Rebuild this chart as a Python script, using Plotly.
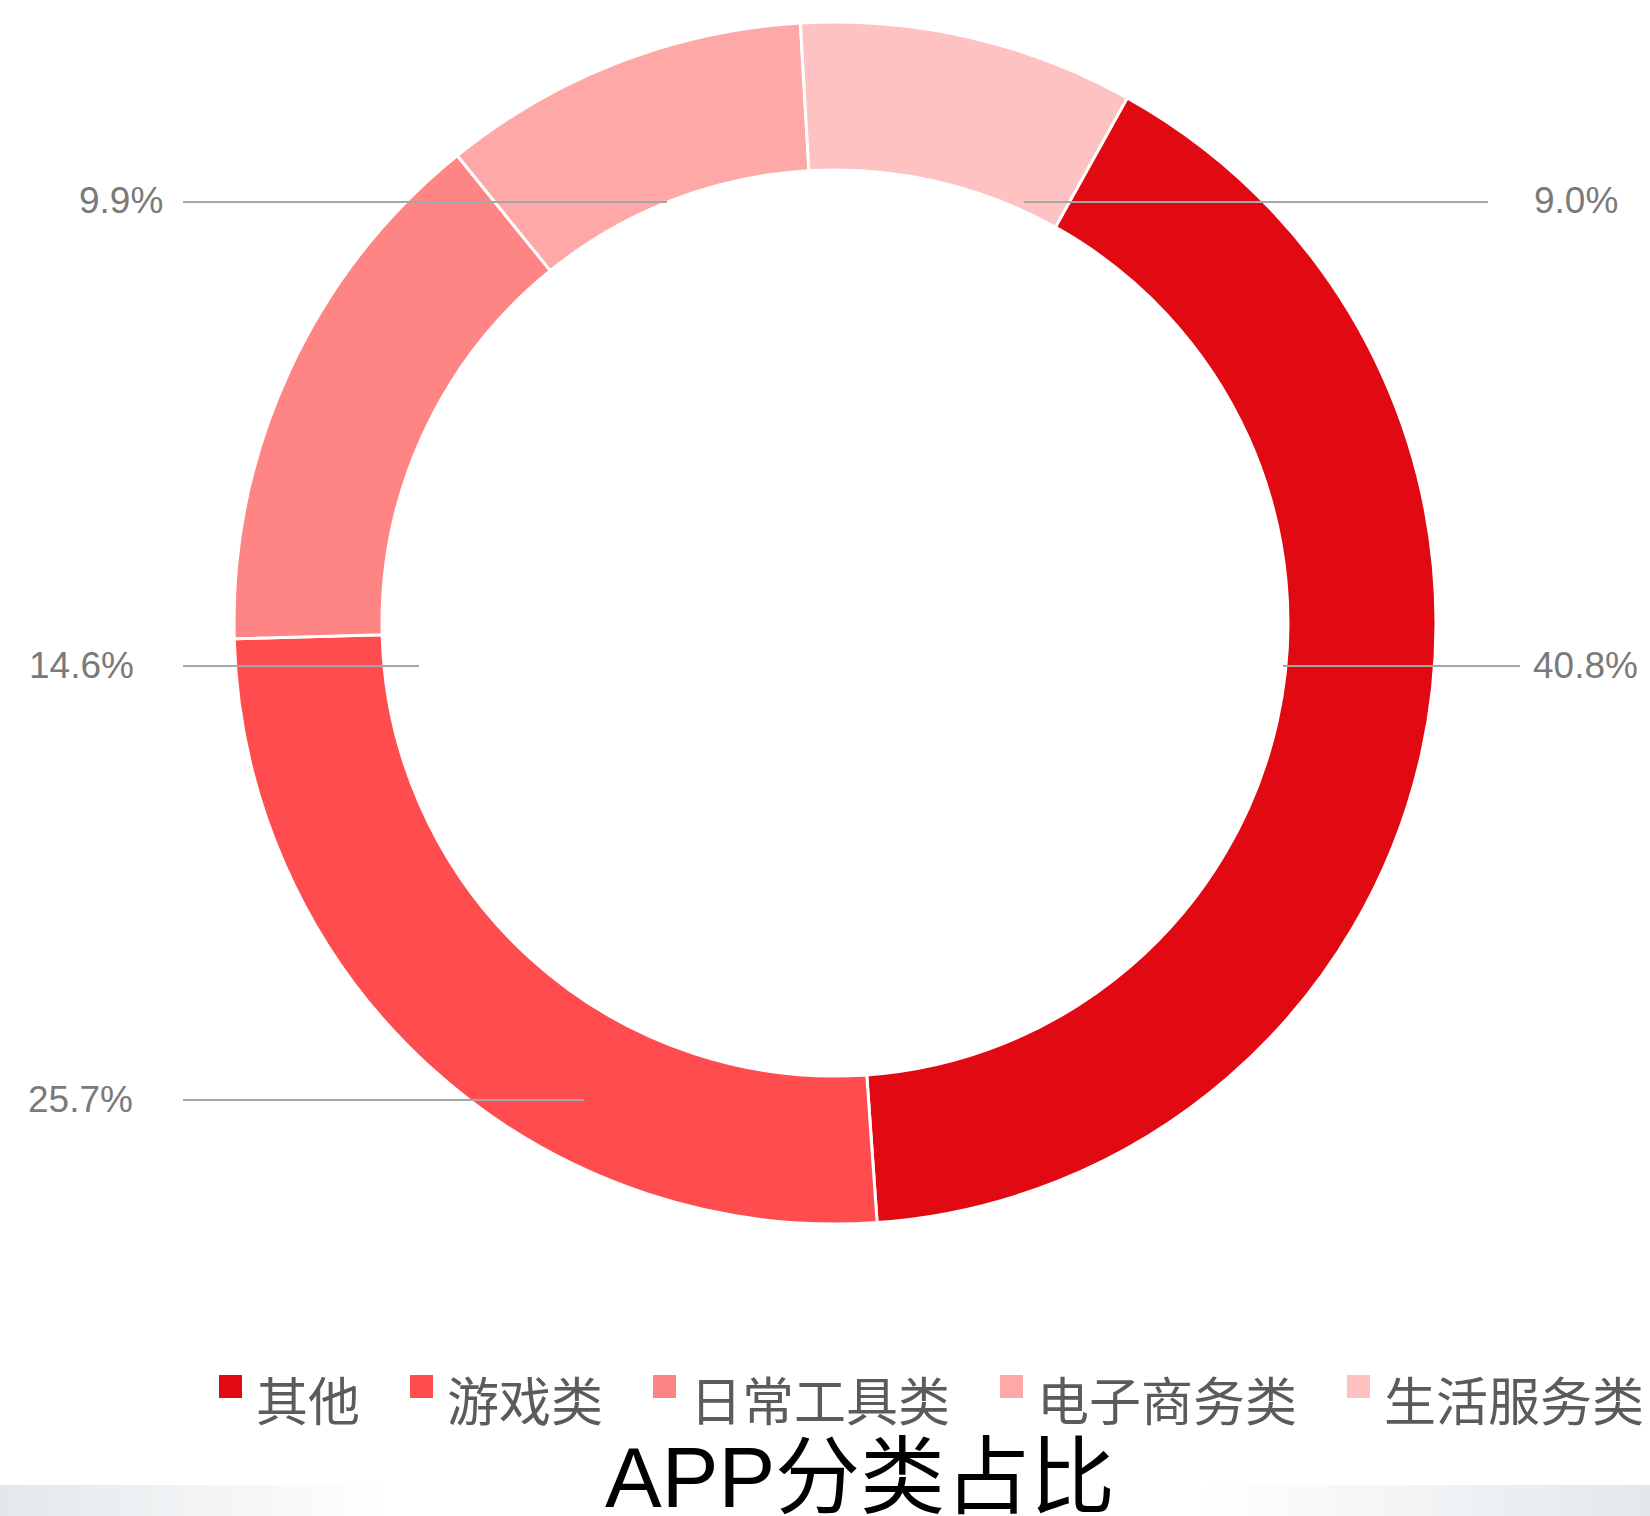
import plotly.graph_objects as go

# ---- data ----
categories = ["其他", "游戏类", "日常工具类", "电子商务类", "生活服务类"]
shares = [40.8, 25.7, 14.6, 9.9, 9.0]
title_text = "APP分类占比"

# ---- styles / layout (pixels in a 1650 x 1516 canvas) ----
W, H = 1650, 1516
colors = ["#E10A12", "#FF4D4F", "#FF8585", "#FFA8A8", "#FFC2C2"]
cx, cy, r_out, r_in = 835, 623, 601, 453

# per-slice label placement: (text x, xanchor, y, line x0, line x1)
label_pos = [
    (1531, "left", 666, 1283, 1520),
    (26, "left", 1100, 183, 584),
    (27, "left", 666, 183, 419),
    (165, "right", 202, 183, 667),
    (1532, "left", 202, 1024, 1488),
]


def px(x):
    return x / W


def py(y):
    return 1 - y / H


fig = go.Figure()
fig.add_trace(go.Pie(
    labels=categories,
    values=shares,
    sort=False,
    direction="clockwise",
    rotation=29.1,
    hole=r_in / r_out,
    marker=dict(colors=colors, line=dict(color="white", width=3)),
    textinfo="none",
    hoverinfo="label+percent",
    showlegend=False,
    domain=dict(x=[px(cx - r_out), px(cx + r_out)],
                y=[py(cy + r_out), py(cy - r_out)]),
))

shapes = []
annotations = []

# leader lines + percentage labels
for v, (tx, xa, ly, x0, x1) in zip(shares, label_pos):
    shapes.append(dict(type="line", xref="paper", yref="paper",
                       x0=px(x0), x1=px(x1), y0=py(ly), y1=py(ly),
                       line=dict(color="#A6A6A6", width=2), layer="above"))
    annotations.append(dict(text=f"{v:.1f}%", xref="paper", yref="paper",
                            x=px(tx), y=py(ly - 1), xanchor=xa, yanchor="middle",
                            showarrow=False,
                            font=dict(family="Liberation Sans, Arial", size=37,
                                      color="#7A7A7A")))

# manual legend
leg_x = 219
leg_font = 52
sq = 23
for name, c in zip(categories, colors):
    shapes.append(dict(type="rect", xref="paper", yref="paper",
                       x0=px(leg_x), x1=px(leg_x + sq), y0=py(1375 + sq), y1=py(1375),
                       fillcolor=c, line=dict(width=0), layer="above"))
    annotations.append(dict(text=name, xref="paper", yref="paper",
                            x=px(leg_x + sq + 12), y=py(1398), xanchor="left",
                            yanchor="middle", showarrow=False,
                            font=dict(family="Noto Sans CJK SC", size=leg_font,
                                      color="#5B5B5B")))
    leg_x += sq + 15 + len(name) * leg_font + 49

# bottom gradient strip
steps = 40
g0 = (228, 232, 235)
for i in range(steps):
    t = i / steps
    col = tuple(int(round(g0[k] + (255 - g0[k]) * t)) for k in range(3))
    rgb = f"rgb({col[0]},{col[1]},{col[2]})"
    xa0 = 383 * i / steps
    xa1 = 383 * (i + 1) / steps + 1
    shapes.append(dict(type="rect", xref="paper", yref="paper",
                       x0=px(xa0), x1=px(xa1), y0=py(H), y1=py(1485),
                       fillcolor=rgb, line=dict(width=0), layer="below"))
    xb1 = W - (W - 1205) * i / steps
    xb0 = W - (W - 1205) * (i + 1) / steps - 1
    shapes.append(dict(type="rect", xref="paper", yref="paper",
                       x0=px(xb0), x1=px(xb1), y0=py(H), y1=py(1485),
                       fillcolor=rgb, line=dict(width=0), layer="below"))

# title at the bottom
annotations.append(dict(text=title_text, xref="paper", yref="paper",
                        x=px(860), y=py(1477), xanchor="center", yanchor="middle",
                        showarrow=False,
                        font=dict(family="Liberation Sans, Noto Sans CJK SC",
                                  size=85, color="#000000")))

fig.update_layout(
    width=W, height=H,
    margin=dict(l=0, r=0, t=0, b=0),
    paper_bgcolor="white",
    plot_bgcolor="white",
    shapes=shapes,
    annotations=annotations,
    showlegend=False,
)

fig.write_html("out.html",
               config={"displayModeBar": False},
               post_script="document.body.style.margin='0px';document.body.style.overflow='hidden';")
